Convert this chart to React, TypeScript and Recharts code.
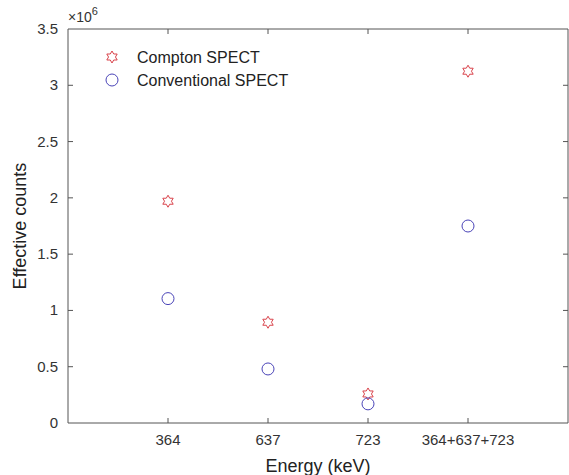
import {
  ComposedChart,
  Scatter,
  XAxis,
  YAxis,
} from "recharts";

const energies = ["364", "637", "723", "364+637+723"];
const comptonCounts = [1.97e6, 0.895e6, 0.258e6, 3.125e6];
const conventionalCounts = [1.105e6, 0.48e6, 0.17e6, 1.75e6];
const yTicks = [0, 0.5e6, 1e6, 1.5e6, 2e6, 2.5e6, 3e6, 3.5e6];
const xTicks = [1, 2, 3, 4];
const xMax = 5;
const yMax = 3.5e6;

const comptonData = energies.map((e, i) => ({ x: i + 1, y: comptonCounts[i], label: e }));
const conventionalData = energies.map((e, i) => ({ x: i + 1, y: conventionalCounts[i], label: e }));

const STAR = "#d9434b";
const CIRCLE = "#4a44b8";
const AXIS = "#555";
const FONT = "'Liberation Sans', Arial, sans-serif";

// chart layout
const W = 569;
const H = 475;
const M = { top: 29, right: 1, bottom: 0, left: 0 };
const Y_AXIS_W = 68;
const X_AXIS_H = 52;
const plot = {
  left: M.left + Y_AXIS_W,
  top: M.top,
  right: W - M.right,
  bottom: H - M.bottom - X_AXIS_H,
};
const pw = plot.right - plot.left;
const ph = plot.bottom - plot.top;
const tx = (t: number) => plot.left + (t / xMax) * pw;
const ty = (t: number) => plot.bottom - (t / yMax) * ph;

function hexagramPoints(cx: number, cy: number, r: number) {
  const inner = r / Math.sqrt(3);
  const pts: string[] = [];
  for (let i = 0; i < 12; i++) {
    const a = (-90 + i * 30) * (Math.PI / 180);
    const rr = i % 2 === 0 ? r : inner;
    pts.push(`${cx + rr * Math.cos(a)},${cy + rr * Math.sin(a)}`);
  }
  return pts.join(" ");
}

const Hexagram = (props: any) => {
  const { cx, cy } = props;
  if (cx == null || cy == null) return <g />;
  return <polygon points={hexagramPoints(cx, cy, 6)} fill="none" stroke={STAR} strokeWidth={1} />;
};

const Ring = (props: any) => {
  const { cx, cy } = props;
  if (cx == null || cy == null) return <g />;
  return <circle cx={cx} cy={cy} r={6} fill="none" stroke={CIRCLE} strokeWidth={1} />;
};

const BottomTick = (props: any) => {
  const { x, y, payload } = props;
  return (
    <text x={x} y={y + 22} textAnchor="middle" fill="#333" fontSize={15} fontFamily={FONT}>
      {energies[payload.value - 1]}
    </text>
  );
};

const LeftTick = (props: any) => {
  const { x, y, payload } = props;
  return (
    <text x={x - 10} y={y + 5} textAnchor="end" fill="#333" fontSize={15} fontFamily={FONT}>
      {payload.value / 1e6}
    </text>
  );
};

export default function App() {
  return (
    <div style={{ position: "absolute", left: 0, top: 0, width: W, height: H, background: "#fff" }}>
      <ComposedChart width={W} height={H} margin={M}>
        <XAxis
          type="number"
          dataKey="x"
          domain={[0, xMax]}
          ticks={xTicks}
          height={X_AXIS_H}
          stroke={AXIS}
          tickLine={false}
          tickSize={0}
          tickMargin={0}
          tick={<BottomTick />}
          label={{ value: "Energy (keV)", position: "insideBottom", offset: 3, fontSize: 18, fill: "#222", fontFamily: FONT }}
        />
        <YAxis
          type="number"
          dataKey="y"
          domain={[0, yMax]}
          ticks={yTicks}
          width={Y_AXIS_W}
          stroke={AXIS}
          tickLine={false}
          tickSize={0}
          tickMargin={0}
          tick={<LeftTick />}
          label={{ value: "Effective counts", angle: -90, position: "insideLeft", offset: 20, fontSize: 18, fill: "#222", fontFamily: FONT, style: { textAnchor: "middle" } }}
        />
        <g stroke={AXIS} strokeWidth={1} fill="none">
          <line x1={plot.left} y1={plot.top} x2={plot.right} y2={plot.top} />
          <line x1={plot.right} y1={plot.top} x2={plot.right} y2={plot.bottom} />
          {xTicks.map((t) => (
            <line key={`xb${t}`} x1={tx(t)} y1={plot.bottom} x2={tx(t)} y2={plot.bottom - 5} />
          ))}
          {xTicks.map((t) => (
            <line key={`xt${t}`} x1={tx(t)} y1={plot.top} x2={tx(t)} y2={plot.top + 5} />
          ))}
          {yTicks.slice(1, -1).map((t) => (
            <line key={`yl${t}`} x1={plot.left} y1={ty(t)} x2={plot.left + 5} y2={ty(t)} />
          ))}
          {yTicks.slice(1, -1).map((t) => (
            <line key={`yr${t}`} x1={plot.right} y1={ty(t)} x2={plot.right - 5} y2={ty(t)} />
          ))}
        </g>
        <Scatter
          name="Compton SPECT"
          data={comptonData}
          shape={<Hexagram />}
          isAnimationActive={false}
        />
        <Scatter
          name="Conventional SPECT"
          data={conventionalData}
          shape={<Ring />}
          isAnimationActive={false}
        />
        <g>
          <polygon points={hexagramPoints(112, 57, 6)} fill="none" stroke={STAR} strokeWidth={1} />
          <text x={137} y={63} fontSize={16} fill="#222" fontFamily={FONT}>Compton SPECT</text>
          <circle cx={112} cy={80} r={6} fill="none" stroke={CIRCLE} strokeWidth={1} />
          <text x={137} y={86} fontSize={16} fill="#222" fontFamily={FONT}>Conventional SPECT</text>
        </g>
        <text x={68} y={22} fontSize={14} fill="#333" fontFamily={FONT}>
          ×10<tspan dy={-7} fontSize={11}>6</tspan>
        </text>
      </ComposedChart>
    </div>
  );
}
